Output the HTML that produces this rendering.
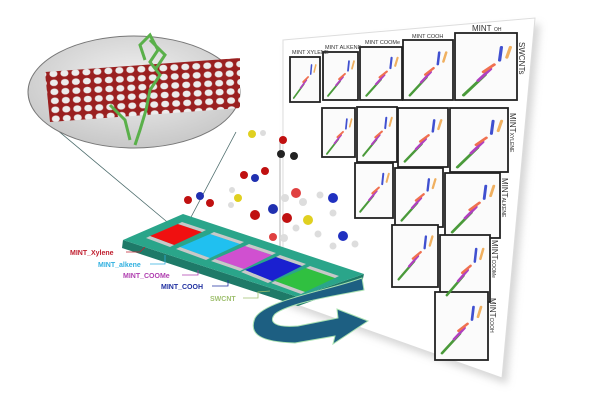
<!DOCTYPE html>
<html><head><meta charset="utf-8"><style>
html,body{margin:0;padding:0;background:#fff}
svg{display:block}
text{font-family:"Liberation Sans",sans-serif}
</style></head><body>
<svg width="612" height="404" viewBox="0 0 612 404" xmlns="http://www.w3.org/2000/svg">
<defs>
<radialGradient id="eg" cx="50%" cy="40%" r="60%"><stop offset="0" stop-color="#f2f2f2"/><stop offset="1" stop-color="#c8c8c8"/></radialGradient>
<pattern id="hex" width="11" height="9" patternUnits="userSpaceOnUse" patternTransform="rotate(-3)">
<rect width="11" height="9" fill="#9a2020"/>
<ellipse cx="5.5" cy="4.5" rx="4" ry="3.3" fill="#ececec"/>
</pattern>
<filter id="sh" x="-10%" y="-10%" width="130%" height="130%"><feGaussianBlur stdDeviation="4"/></filter>
<g id="c" stroke-linecap="round" fill="none" stroke-width="1.8"><path d="M2,38 L14,24" stroke="#4a9a3a"/><path d="M10,28 L17,20" stroke="#b040c0"/><path d="M13,22 L19,17" stroke="#f07050"/><path d="M22,14 L23,5" stroke="#4050d0"/><path d="M26,12 L28,5" stroke="#f0b060"/></g>
</defs>
<polygon points="288,46 540,24 507,384 288,306" fill="#bbb" filter="url(#sh)" opacity="0.6"/>
<polygon points="283,40 535,18 502,378 283,300" fill="#fff" stroke="#ddd"/>
<g fill="#fbfbfb" stroke="#222" stroke-width="1.8">
<rect x="290" y="57" width="30" height="45"/>
<rect x="323" y="52" width="35" height="48"/>
<rect x="360" y="47" width="42" height="53"/>
<rect x="403" y="40" width="50" height="60"/>
<rect x="455" y="33" width="62" height="67"/>
<rect x="322" y="108" width="33" height="49"/>
<rect x="357" y="107" width="40" height="55"/>
<rect x="398" y="108" width="50" height="59"/>
<rect x="450" y="108" width="58" height="64"/>
<rect x="355" y="163" width="38" height="55"/>
<rect x="395" y="168" width="48" height="59"/>
<rect x="445" y="173" width="55" height="65"/>
<rect x="392" y="225" width="46" height="62"/>
<rect x="440" y="235" width="50" height="67"/>
<rect x="435" y="292" width="53" height="68"/>
</g>
<use href="#c" transform="translate(292,60) scale(0.85,1)"/>
<use href="#c" transform="translate(326,56) scale(1,1.05)"/>
<use href="#c" transform="translate(364,52) scale(1.2,1.15)"/>
<use href="#c" transform="translate(407,46) scale(1.4,1.3)"/>
<use href="#c" transform="translate(460,40) scale(1.8,1.45)"/>
<use href="#c" transform="translate(325,114) scale(0.95,1.05)"/>
<use href="#c" transform="translate(361,112) scale(1.1,1.15)"/>
<use href="#c" transform="translate(402,114) scale(1.4,1.25)"/>
<use href="#c" transform="translate(454,114) scale(1.7,1.4)"/>
<use href="#c" transform="translate(358,168) scale(1.1,1.15)"/>
<use href="#c" transform="translate(399,173) scale(1.3,1.25)"/>
<use href="#c" transform="translate(449,179) scale(1.6,1.4)"/>
<use href="#c" transform="translate(396,230) scale(1.3,1.3)"/>
<use href="#c" transform="translate(444,242) scale(1.4,1.4)"/>
<use href="#c" transform="translate(439,300) scale(1.5,1.4)"/>
<g font-size="5.5" fill="#333">
<text x="292" y="54">MINT XYLENE</text>
<text x="325" y="49">MINT ALKENE</text>
<text x="365" y="44">MINT COOMe</text>
<text x="412" y="38">MINT COOH</text>
<text x="472" y="31" font-size="8">MINT</text><text x="494" y="31" font-size="5">OH</text>
</g>
<g font-size="8" fill="#333">
<text transform="translate(519,42) rotate(90)">SWCNTs</text>
<text transform="translate(510,113) rotate(90)">MINT<tspan font-size="5">XYLENE</tspan></text>
<text transform="translate(502,178) rotate(90)">MINT<tspan font-size="5">ALKENE</tspan></text>
<text transform="translate(492,240) rotate(90)">MINT<tspan font-size="5">COOMe</tspan></text>
<text transform="translate(490,298) rotate(90)">MINT<tspan font-size="5">COOH</tspan></text>
</g>
<line x1="50" y1="124" x2="172" y2="226" stroke="#4a6a6a" stroke-width="0.8"/>
<line x1="236" y1="132" x2="190" y2="219" stroke="#4a6a6a" stroke-width="0.8"/>
<ellipse cx="134" cy="92" rx="106" ry="56" fill="url(#eg)" stroke="#777"/>
<polygon points="45,72 240,58 240,108 50,122" fill="url(#hex)"/>
<path d="M145,60 L140,45 L150,35 L158,50 L150,62 L160,75 L150,90 L146,110 L140,130 L135,145 M150,40 L165,55 L155,70 M110,105 L125,120 L130,140" stroke="#5ab04a" stroke-width="3" fill="none"/>
<line x1="280" y1="140" x2="280" y2="300" stroke="#ccc" stroke-width="1.5"/>
<g>
<circle cx="188" cy="200" r="4" fill="#c01010"/><circle cx="200" cy="196" r="4" fill="#2030b0"/><circle cx="210" cy="203" r="4" fill="#c01010"/>
<circle cx="244" cy="175" r="4" fill="#c01010"/><circle cx="255" cy="178" r="4" fill="#2030b0"/><circle cx="265" cy="171" r="4" fill="#c01010"/>
<circle cx="255" cy="215" r="5" fill="#c01010"/><circle cx="273" cy="209" r="5" fill="#2030b0"/><circle cx="287" cy="218" r="5" fill="#c01010"/>
<circle cx="238" cy="198" r="4" fill="#e0d020"/><circle cx="231" cy="205" r="3" fill="#ddd"/><circle cx="232" cy="190" r="3" fill="#ddd"/>
<circle cx="252" cy="134" r="4" fill="#e0d020"/><circle cx="263" cy="133" r="3" fill="#ddd"/>
<circle cx="283" cy="140" r="4" fill="#c01010"/><circle cx="281" cy="154" r="4" fill="#222"/><circle cx="294" cy="156" r="4" fill="#222"/>
<circle cx="296" cy="193" r="5" fill="#e04040"/><circle cx="285" cy="198" r="4" fill="#ddd"/><circle cx="303" cy="202" r="4" fill="#ddd"/>
<circle cx="333" cy="198" r="5" fill="#2030c0"/><circle cx="320" cy="195" r="3.5" fill="#ddd"/><circle cx="333" cy="213" r="3.5" fill="#ddd"/>
<circle cx="308" cy="220" r="5" fill="#e0d020"/><circle cx="296" cy="228" r="3.5" fill="#ddd"/><circle cx="318" cy="234" r="3.5" fill="#ddd"/>
<circle cx="343" cy="236" r="5" fill="#2030c0"/><circle cx="333" cy="246" r="3.5" fill="#ddd"/><circle cx="355" cy="244" r="3.5" fill="#ddd"/>
<circle cx="273" cy="237" r="4" fill="#e04040"/><circle cx="284" cy="238" r="4" fill="#ddd"/>
</g>
<polygon points="122,248 298,306 362,283 364,274 298,297 123,240" fill="#1e7a68"/>
<polygon points="123,240 183,214 364,274 298,297" fill="#2aa58a"/>
<g>
<polygon points="150,236 178,224 202,232 174,245" fill="#f01010"/>
<polygon points="180,247 210,234 240,244 210,258" fill="#20c0f0"/>
<polygon points="215,259 245,246 272,255 244,269" fill="#d050d0"/>
<polygon points="245,270 276,257 302,266 272,281" fill="#1a20d0"/>
<polygon points="275,281 306,268 335,278 305,292" fill="#30c040"/>
</g>
<g fill="#c8c8c8">
<polygon points="146,238 150,236 174,245 170,247"/><polygon points="176,249 180,247 210,258 206,260"/>
<polygon points="211,261 215,259 244,269 240,271"/><polygon points="241,272 245,270 272,281 268,283"/>
<polygon points="271,283 275,281 305,292 301,294"/>
<polygon points="178,224 182,222 206,230 202,232"/><polygon points="210,234 214,232 244,242 240,244"/>
<polygon points="245,246 249,244 276,253 272,255"/><polygon points="276,257 280,255 306,264 302,266"/>
<polygon points="306,268 310,266 339,276 335,278"/>
</g>
<path d="M362,278 C330,290 265,300 255,318 C248,335 262,342 295,343 L335,336 L333,344 L368,321 L337,309 L338,318 L298,326 C275,328 268,322 275,314 C290,302 345,294 364,290 Z" fill="#1d5f82" stroke="#a8e0b0" stroke-width="1"/>
<g font-size="7" font-weight="bold">
<text x="70" y="255" fill="#c02030">MINT_Xylene</text>
<text x="98" y="267" fill="#30b0e0">MINT_alkene</text>
<text x="123" y="278" fill="#b040b0">MINT_COOMe</text>
<text x="161" y="289" fill="#2030a0">MINT_COOH</text>
<text x="210" y="301" fill="#a0c070">SWCNT</text>
</g>
<g fill="none" stroke-width="0.8">
<path d="M126,252 H140 L145,247" stroke="#c02030"/>
<path d="M150,264 H165 V255" stroke="#30b0e0"/>
<path d="M182,275 H198 V270" stroke="#b040b0"/>
<path d="M212,286 H228 V280" stroke="#2030a0"/>
<path d="M243,298 H258 V292 L270,291" stroke="#a0c070"/>
</g>
</svg>
</body></html>
